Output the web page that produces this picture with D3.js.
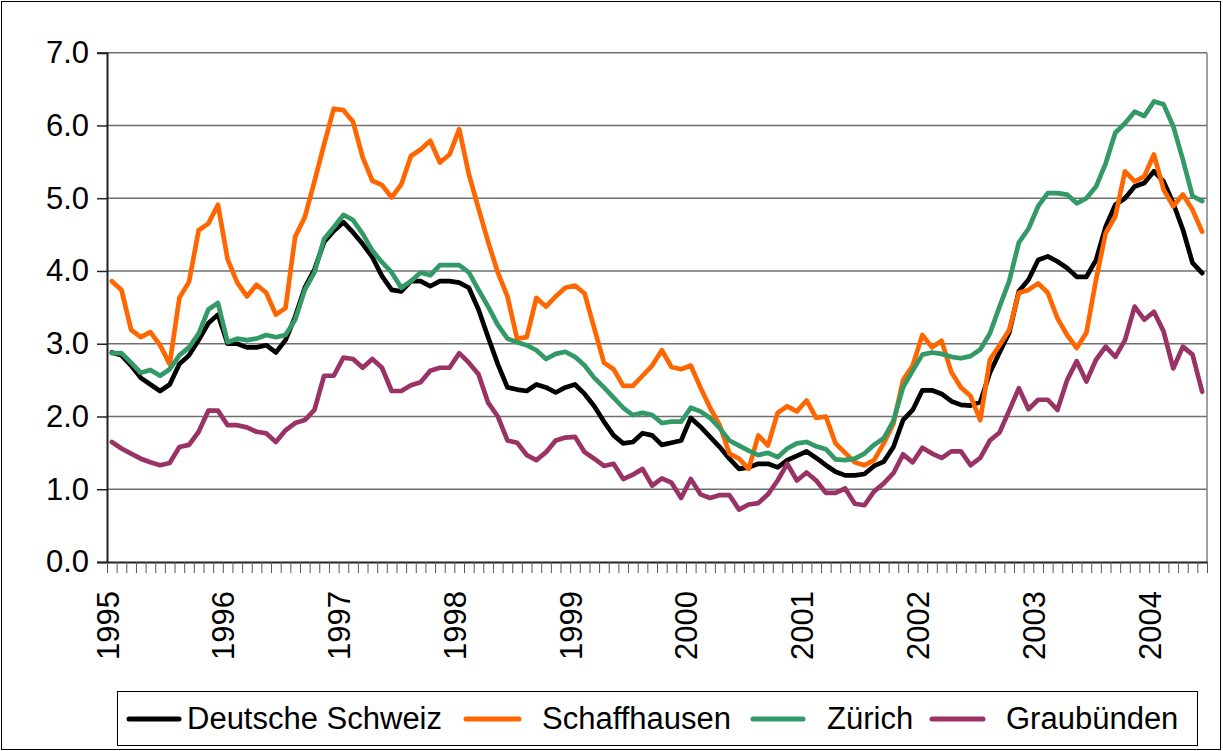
<html>
<head>
  <script src="https://cdn.jsdelivr.net/npm/d3@7"></script>
  <style>
    body { margin: 0; background: #fff; }
    text { font-family: "Liberation Sans", Arial, sans-serif; fill: #000; }
  </style>
</head>
<body>
  <svg id="chart" width="1223" height="751"></svg>
  <script>

    // monthly values, Jan 1995 - Jun 2004
    const years = ["1995", "1996", "1997", "1998", "1999", "2000", "2001", "2002", "2003", "2004"];

    const deutscheSchweiz = [
      2.88, 2.84, 2.70, 2.53, 2.44, 2.35, 2.44, 2.72, 2.84, 3.05, 3.28, 3.40,
      3.00, 3.00, 2.95, 2.95, 2.98, 2.88, 3.05, 3.37, 3.77, 4.02, 4.40, 4.55,
      4.67, 4.53, 4.37, 4.19, 3.93, 3.74, 3.72, 3.86, 3.86, 3.79, 3.86, 3.86,
      3.84, 3.77, 3.47, 3.09, 2.72, 2.40, 2.37, 2.35, 2.44, 2.40, 2.33, 2.40,
      2.44, 2.31, 2.14, 1.93, 1.74, 1.63, 1.65, 1.77, 1.74, 1.61, 1.64, 1.67,
      1.98, 1.86, 1.72, 1.58, 1.42, 1.28, 1.30, 1.35, 1.35, 1.30, 1.40, 1.46,
      1.52, 1.43, 1.33, 1.24, 1.19, 1.19, 1.21, 1.32, 1.38, 1.58, 1.95, 2.09,
      2.36, 2.36, 2.31, 2.21, 2.16, 2.15, 2.20, 2.60, 2.88, 3.15, 3.72, 3.88,
      4.15, 4.20, 4.13, 4.04, 3.92, 3.92, 4.15, 4.61, 4.91, 5.00, 5.16, 5.21,
      5.37, 5.23, 4.93, 4.57, 4.11, 3.97
    ];

    const schaffhausen = [
      3.86, 3.74, 3.19, 3.09, 3.16, 2.98, 2.72, 3.63, 3.85, 4.56, 4.65, 4.91,
      4.16, 3.84, 3.65, 3.81, 3.70, 3.40, 3.49, 4.47, 4.74, 5.23, 5.74, 6.23,
      6.21, 6.05, 5.56, 5.24, 5.18, 5.01, 5.19, 5.58, 5.67, 5.79, 5.49, 5.60,
      5.95, 5.33, 4.86, 4.40, 3.98, 3.65, 3.07, 3.09, 3.63, 3.51, 3.65, 3.77,
      3.80, 3.69, 3.21, 2.74, 2.65, 2.42, 2.42, 2.56, 2.70, 2.91, 2.68, 2.65,
      2.70, 2.40, 2.12, 1.88, 1.49, 1.42, 1.28, 1.74, 1.60, 2.05, 2.14, 2.07,
      2.22, 1.98, 2.00, 1.63, 1.50, 1.37, 1.33, 1.40, 1.63, 1.90, 2.50, 2.70,
      3.12, 2.95, 3.04, 2.61, 2.40, 2.28, 1.95, 2.78, 2.98, 3.19, 3.70, 3.74,
      3.83, 3.70, 3.35, 3.12, 2.94, 3.15, 3.88, 4.52, 4.75, 5.37, 5.23, 5.30,
      5.60, 5.12, 4.89, 5.05, 4.84, 4.54
    ];

    const zuerich = [
      2.87, 2.87, 2.74, 2.60, 2.64, 2.56, 2.65, 2.84, 2.95, 3.14, 3.47, 3.56,
      3.02, 3.07, 3.05, 3.07, 3.12, 3.09, 3.12, 3.33, 3.74, 3.98, 4.44, 4.60,
      4.77, 4.70, 4.51, 4.28, 4.12, 3.98, 3.77, 3.86, 3.98, 3.94, 4.08, 4.08,
      4.08, 3.98, 3.74, 3.51, 3.26, 3.07, 3.02, 2.98, 2.91, 2.79, 2.86, 2.89,
      2.82, 2.70, 2.53, 2.40, 2.26, 2.12, 2.02, 2.05, 2.02, 1.91, 1.93, 1.93,
      2.12, 2.07, 1.98, 1.84, 1.67, 1.60, 1.53, 1.47, 1.50, 1.44, 1.56, 1.63,
      1.65, 1.59, 1.55, 1.41, 1.40, 1.42, 1.49, 1.61, 1.70, 1.94, 2.40, 2.63,
      2.85, 2.88, 2.86, 2.82, 2.80, 2.83, 2.92, 3.14, 3.51, 3.86, 4.39, 4.58,
      4.89, 5.07, 5.07, 5.05, 4.93, 5.00, 5.16, 5.48, 5.90, 6.03, 6.19, 6.13,
      6.33, 6.29, 5.99, 5.53, 5.03, 4.96
    ];

    const graubuenden = [
      1.65, 1.56, 1.49, 1.42, 1.37, 1.33, 1.36, 1.58, 1.61, 1.79, 2.08, 2.08,
      1.88, 1.88, 1.85, 1.79, 1.77, 1.65, 1.81, 1.91, 1.95, 2.09, 2.56, 2.56,
      2.81, 2.79, 2.67, 2.79, 2.67, 2.35, 2.35, 2.43, 2.47, 2.63, 2.67, 2.67,
      2.87, 2.74, 2.58, 2.19, 2.00, 1.67, 1.64, 1.47, 1.40, 1.51, 1.67, 1.71,
      1.72, 1.51, 1.42, 1.32, 1.35, 1.14, 1.20, 1.28, 1.05, 1.15, 1.09, 0.88,
      1.14, 0.93, 0.88, 0.92, 0.92, 0.72, 0.79, 0.81, 0.93, 1.12, 1.35, 1.12,
      1.23, 1.12, 0.95, 0.95, 1.01, 0.80, 0.78, 0.97, 1.08, 1.22, 1.48, 1.37,
      1.57, 1.49, 1.43, 1.52, 1.52, 1.33, 1.43, 1.67, 1.78, 2.08, 2.39, 2.10,
      2.23, 2.23, 2.09, 2.50, 2.76, 2.48, 2.78, 2.96, 2.82, 3.05, 3.51, 3.33,
      3.44, 3.17, 2.66, 2.96, 2.85, 2.34
    ];

    const seriesNames = ["Deutsche Schweiz", "Schaffhausen", "Zürich", "Graubünden"];
    const seriesColors = ["#000000", "#ff6600", "#339966", "#993366"];
    const yTicks = [0, 1, 2, 3, 4, 5, 6, 7];

    const series = [deutscheSchweiz, schaffhausen, zuerich, graubuenden];
    const n = deutscheSchweiz.length;

    const svg = d3.select("#chart");
    const plot = { left: 107, right: 1207, top: 52.7, bottom: 562 };

    // chart area frame
    svg.append("rect")
      .attr("x", 1.5).attr("y", 1.5)
      .attr("width", 1219).attr("height", 748)
      .attr("fill", "none").attr("stroke", "#000").attr("stroke-width", 1);

    const x = d3.scaleLinear().domain([0, n]).range([plot.left, plot.right]);
    const y = d3.scaleLinear().domain([0, 7]).range([plot.bottom, plot.top]);

    // gridlines
    svg.append("g")
      .selectAll("line").data(yTicks.slice(1))
      .join("line")
      .attr("x1", plot.left).attr("x2", plot.right)
      .attr("y1", d => y(d)).attr("y2", d => y(d))
      .attr("stroke", "#6f6f6f").attr("stroke-width", 1.4);

    // right edge of plot
    svg.append("line")
      .attr("x1", plot.right).attr("x2", plot.right)
      .attr("y1", plot.top).attr("y2", plot.bottom)
      .attr("stroke", "#808080").attr("stroke-width", 1.5);

    // y axis
    const yAxis = svg.append("g")
      .attr("transform", "translate(" + plot.left + ",0)")
      .call(d3.axisLeft(y).tickValues(yTicks).tickFormat(d3.format(".1f")).tickSize(10).tickPadding(8));
    yAxis.select(".domain").attr("stroke", "#222").attr("stroke-width", 2);
    yAxis.selectAll(".tick line").attr("stroke", "#222").attr("stroke-width", 1.5);
    yAxis.selectAll("text").style("font-size", "31px").attr("fill", "#000")
      .style("font-family", "'Liberation Sans', Arial, sans-serif");

    // x axis: a tick at each month boundary
    const xAxis = svg.append("g")
      .attr("transform", "translate(0," + plot.bottom + ")")
      .call(d3.axisBottom(x).tickValues(d3.range(n + 1)).tickFormat("").tickSize(11).tickSizeOuter(0));
    xAxis.select(".domain").attr("stroke", "#222").attr("stroke-width", 2);
    xAxis.selectAll(".tick line").attr("stroke", "#555").attr("stroke-width", 1);

    // year labels at the start of each January
    svg.append("g")
      .selectAll("text").data(years)
      .join("text")
      .attr("transform", (d, i) => "translate(" + (x(i * 12) + 1) + ",591) rotate(-90)")
      .attr("text-anchor", "end")
      .attr("dominant-baseline", "central")
      .style("font-size", "31px")
      .text(d => d);

    // lines
    const line = d3.line()
      .x((d, i) => x(i + 0.5))
      .y(d => y(d));

    svg.append("g")
      .selectAll("path").data(series)
      .join("path")
      .attr("d", line)
      .attr("fill", "none")
      .attr("stroke", (d, i) => seriesColors[i])
      .attr("stroke-width", 4.7)
      .attr("stroke-linejoin", "round")
      .attr("stroke-linecap", "round");

    // legend
    const legend = svg.append("g");
    legend.append("rect")
      .attr("x", 117.5).attr("y", 691.5)
      .attr("width", 1080).attr("height", 54)
      .attr("fill", "#fff").attr("stroke", "#000").attr("stroke-width", 1);

    const legendItems = [
      { x1: 129, x2: 179, tx: 187 },
      { x1: 466, x2: 519, tx: 542 },
      { x1: 753, x2: 803, tx: 827 },
      { x1: 932, x2: 983, tx: 1006 }
    ];

    legend.selectAll("line").data(legendItems)
      .join("line")
      .attr("x1", d => d.x1).attr("x2", d => d.x2)
      .attr("y1", 719).attr("y2", 719)
      .attr("stroke", (d, i) => seriesColors[i])
      .attr("stroke-width", 5)
      .attr("stroke-linecap", "round");

    legend.selectAll("text").data(legendItems)
      .join("text")
      .attr("x", d => d.tx).attr("y", 729)
      .style("font-size", "31px")
      .text((d, i) => seriesNames[i]);

  </script>
</body>
</html>
